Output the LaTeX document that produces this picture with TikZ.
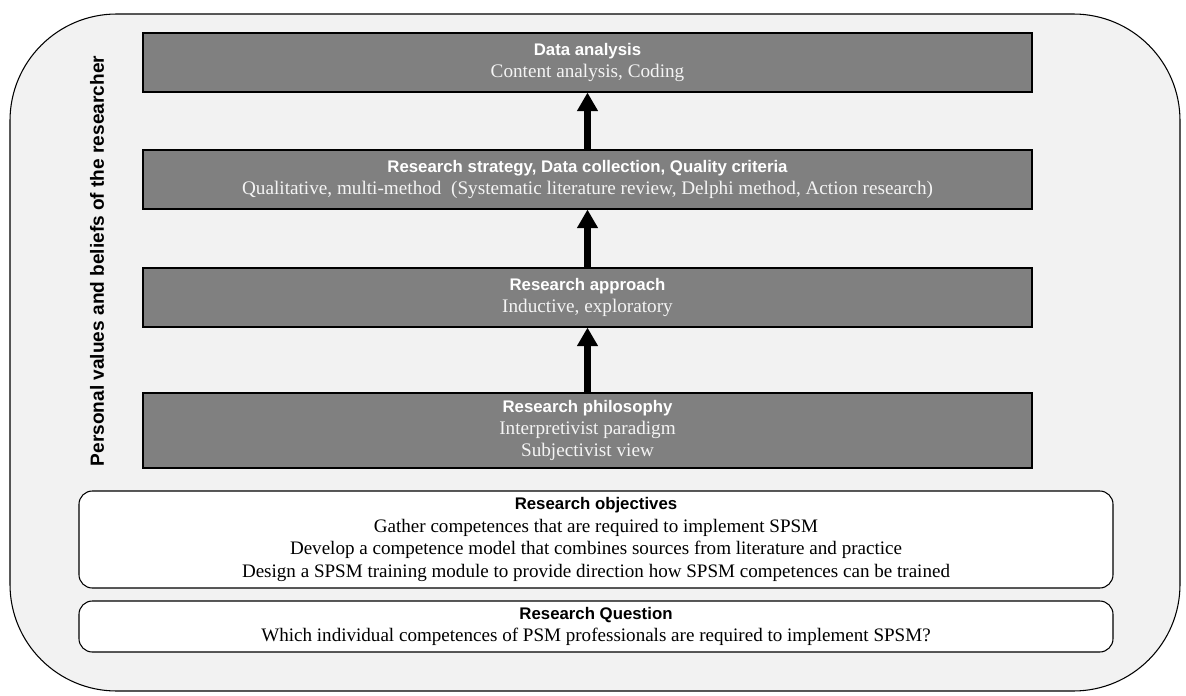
\documentclass[tikz,border=0pt]{standalone}
\usepackage{fontspec}
\setmainfont{Liberation Serif}
\newfontfamily\headfont{Liberation Sans}
\usetikzlibrary{arrows.meta}

\definecolor{panelgray}{HTML}{F2F2F2}
\definecolor{boxgray}{HTML}{808080}
\definecolor{softwhite}{HTML}{F4F4F4}

\tikzset{
  frame/.style={draw=black, line width=0.8pt, fill=panelgray, rounded corners=80pt,
    inner sep=0pt, minimum width=877.5pt, minimum height=507.75pt},
  stagebox/.style={draw=black, line width=0.8pt, fill=boxgray, text=softwhite,
    inner sep=0pt, minimum width=666.75pt, align=center,
    font=\fontsize{14.4}{16.6}\selectfont},
  basebox/.style={draw=black, line width=0.8pt, fill=white, rounded corners=10pt,
    inner sep=0pt, minimum width=775.5pt, align=center,
    font=\fontsize{14.3}{16.9}\selectfont},
  stepflow/.style={line width=4.8pt, -{Triangle[width=15pt,length=14pt]}},
}
\newcommand{\hd}[1]{{\headfont\bfseries\fontsize{12.6}{16.6}\selectfont #1}}

\begin{document}
\begin{tikzpicture}[x=0.75pt,y=-0.75pt]
\useasboundingbox (0,0) rectangle (1186,696);

% surrounding panel
\node[frame] (panel) at (595,352.5) {};

% side label
\node[rotate=90, font=\headfont\bfseries\fontsize{14.3}{17}\selectfont] (values) at (97,261)
  {Personal values and beliefs of the researcher};

% research design layers
\node[stagebox, minimum height=44.25pt] (analysis) at (587.5,62.5)
  {{\color{white}\hd{Data analysis}}\\Content analysis, Coding};
\node[stagebox, minimum height=44.25pt] (strategy) at (587.5,179.5)
  {{\color{white}\hd{Research strategy, Data collection, Quality criteria}}\\Qualitative, multi-method\ \ (Systematic literature review, Delphi method, Action research)};
\node[stagebox, minimum height=44.25pt] (approach) at (587.5,297.5)
  {{\color{white}\hd{Research approach}}\\Inductive, exploratory};
\node[stagebox, minimum height=56.25pt] (philosophy) at (587.5,430.5)
  {{\color{white}\hd{Research philosophy}}\\Interpretivist paradigm\\Subjectivist view};

% foundations
\node[basebox, minimum height=72.75pt] (objectives) at (596,539.5)
  {\hd{Research objectives}\\Gather competences that are required to implement SPSM\\Develop a competence model that combines sources from literature and practice\\Design a SPSM training module to provide direction how SPSM competences can be trained};
\node[basebox, minimum height=38.25pt] (question) at (596,626.5)
  {\hd{Research Question}\\Which individual competences of PSM professionals are required to implement SPSM?};

% upward flow
\draw[stepflow] (philosophy.north) -- (approach.south);
\draw[stepflow] (approach.north) -- (strategy.south);
\draw[stepflow] (strategy.north) -- (analysis.south);
\end{tikzpicture}
\end{document}
